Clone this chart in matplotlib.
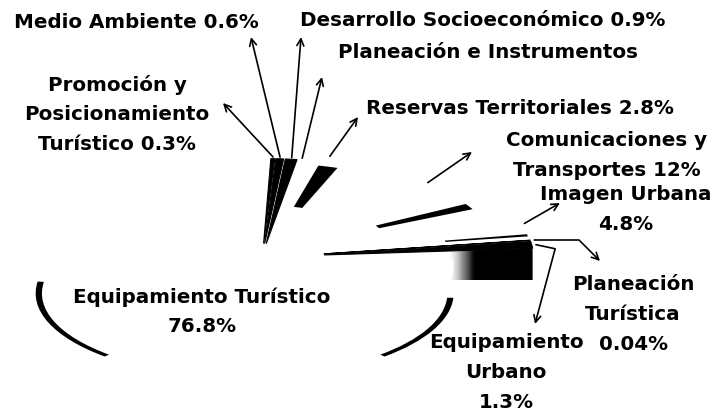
import numpy as np
import matplotlib
matplotlib.use("Agg")
import matplotlib.pyplot as plt
from matplotlib.patches import Wedge, Polygon

# Distribucion de la inversion por sector (%), en el sentido de las agujas del reloj
sectores = ["Promoción y Posicionamiento Turístico", "Medio Ambiente",
            "Desarrollo Socioeconómico", "Planeación e Instrumentos",
            "Reservas Territoriales", "Comunicaciones y Transportes",
            "Imagen Urbana", "Planeación Turística", "Equipamiento Urbano",
            "Equipamiento Turístico"]
porcentajes = [0.3, 0.6, 0.9, 0.46, 2.8, 12, 4.8, 0.04, 1.3, 76.8]
etiquetas = [["Promoción y", "Posicionamiento", "Turístico 0.3%"],
             ["Medio Ambiente 0.6%"],
             ["Desarrollo Socioeconómico 0.9%"],
             ["Planeación e Instrumentos"],
             ["Reservas Territoriales 2.8%"],
             ["Comunicaciones y", "Transportes 12%"],
             ["Imagen Urbana", "4.8%"],
             ["Planeación", "Turística", "0.04%"],
             ["Equipamiento", "Urbano", "1.3%"],
             ["Equipamiento Turístico", "76.8%"]]

# estilo / posiciones (pixeles)
W, H = 723, 413
CX, CY, RX, RY = 262, 258, 209, 85     # elipse del pastel
DEPTH = 28                             # grosor 3D del sector grande
DEPTH_CARA = 32                        # grosor de la cara lateral
colores = ["black", "black", "black", "white", "white",
           "white", "white", "black", "black", "white"]
sin_borde = [3, 4, 5, 6, 9]            # sectores claros sin contorno
explode = [0.17, 0.17, 0.17, 0.17, 0.22, 0.17, 0.3, 0.3, 0.3, 0.12]
pos_texto = [(117, 85), (136, 22), (483, 20), (488, 53), (520, 108),
             (607, 141), (626, 194), (633, 285), (506, 342), (202, 297)]
punta = [(223, 103), (251, 37), (301, 37), (322, 77), (358, 117),
         (472, 152), (560, 203), (600, 261), (535, 324), None]
conexion = ["arc3", "arc3", "arc3", "arc3", "arc3", "arc3", "arc3",
            "angle,angleA=0,angleB=-45,rad=0",
            "angle,angleA=-12,angleB=75,rad=0", None]
PASO = 30

fig = plt.figure(figsize=(W / 100, H / 100), dpi=100)
fig.patch.set_facecolor("white")

# eje del pastel (estirado para verlo en perspectiva)
pax = fig.add_axes([0, 0, 1, 1])
wedges, _ = pax.pie(porcentajes, startangle=88, counterclock=False,
                    explode=explode, colors=colores,
                    wedgeprops=dict(linewidth=0.8, edgecolor="black"))
pax.set_aspect("auto")
pax.axis("off")

for i in sin_borde:
    wedges[i].set_edgecolor("none")

# zonas oscuras que quedan de los sectores claros (borde inferior / centro)
w = wedges[4]
pax.add_patch(Wedge(w.center, 0.9, w.theta1 + 0.5, w.theta2 - 3.5,
                    width=0.5, color="black", lw=0))
for i, (grados, ancho) in {5: (4.0, 0.5), 6: (1.5, 0.4)}.items():
    w = wedges[i]
    pax.add_patch(Wedge(w.center, 1.0, w.theta1, w.theta1 + grados,
                        width=ancho, color="black", lw=0))

big = wedges[-1]
dy = DEPTH / RY

# borde inferior del sector grande (solo se conservan los extremos)
bc = (big.center[0], big.center[1] - dy)
for t1, t2 in [(172, 228), (312, 357)]:
    pax.add_patch(Wedge(bc, 1.0, t1, t2, width=0.03, color="black", lw=0))

# cara lateral del sector de Equipamiento Urbano, con degradado
w = wedges[8]
dyc = DEPTH_CARA / RY
c0 = np.array(w.center)
c1 = c0 + np.array([np.cos(np.radians(w.theta1)), np.sin(np.radians(w.theta1))])
cara = Polygon([c0, c1, c1 - [0, dyc], c0 - [0, dyc]], closed=True,
               facecolor="none", edgecolor="none")
pax.add_patch(cara)
t = np.linspace(0, 1, 256)
grad = np.clip((t - 0.6) / 0.12, 0, 1)[None, :]
img = pax.imshow(grad, cmap="Greys", vmin=0, vmax=1, aspect="auto",
                 extent=[c0[0], c1[0], c1[1] - dyc, max(c0[1], c1[1])],
                 interpolation="bilinear", zorder=0.5)
img.set_clip_path(cara)
pax.set_xlim(-CX / RX, (W - CX) / RX)
pax.set_ylim((CY - H) / RY, CY / RY)

# eje de textos en pixeles
ax = fig.add_axes([0, 0, 1, 1])
ax.set_xlim(0, W)
ax.set_ylim(H, 0)
ax.axis("off")
ax.patch.set_alpha(0)

for i, w in enumerate(wedges):
    x0, y0 = pos_texto[i]
    for k, linea in enumerate(etiquetas[i]):
        ax.text(x0, y0 + k * PASO, linea, ha="center", va="center",
                fontsize=14.3, fontweight="bold", family="DejaVu Sans",
                color="black")
    if punta[i] is None:
        continue
    ang = np.radians((w.theta1 + w.theta2) / 2)
    inicio = (w.center[0] + 1.02 * np.cos(ang), w.center[1] + 1.02 * np.sin(ang))
    ax.annotate("", xy=punta[i], xycoords="data",
                xytext=inicio, textcoords=pax.transData,
                arrowprops=dict(arrowstyle="->,head_length=0.5,head_width=0.25",
                                color="black", lw=1.2,
                                connectionstyle=conexion[i],
                                shrinkA=0, shrinkB=0))

fig.savefig("out.png", dpi=100, facecolor="white")
